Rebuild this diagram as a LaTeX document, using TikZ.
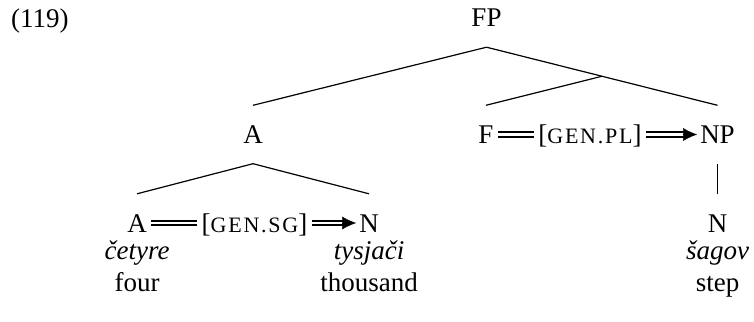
\documentclass[tikz,border=0pt]{standalone}
\usepackage{fontspec}
\setmainfont{Liberation Serif}
\newfontfamily\featfont[LetterSpace=8]{Liberation Serif}
\usetikzlibrary{arrows.meta,calc}
\tikzset{cat/.style={anchor=base,inner xsep=0pt,inner ysep=20pt,text height=18pt,text depth=0pt,font=\fontsize{27}{31}\selectfont},word/.style={anchor=base,inner sep=0pt,font=\fontsize{27}{31}\selectfont},branch/.style={line width=1.2pt},agree/.style={line width=1.9pt,double,double distance=2.8pt,shorten <=4pt,shorten >=4pt},head/.style={line width=.4pt,-{Latex[length=14pt,width=13pt]},shorten >=3pt}}
\newcommand{\feat}[1]{[{\fontsize{22}{24}\featfont #1}]}

\begin{document}
\begin{tikzpicture}[x=1pt,y=-1pt]
\path[use as bounding box] (0,0) rectangle (754,321);
\node[word,anchor=base west] (ex) at (11,28) {(119)};
% tree
\node[cat] (fp) at (486.5,27) {FP};
\node[cat] (a1) at (253,143.5) {A};
\node[cat] (f) at (486,143.5) {F};
\node[cat] (gpl) at (590,143.5) {\feat{GEN.PL}};
\node[cat] (np) at (717.5,143.5) {NP};
\node[cat] (a2) at (137,232) {A};
\node[cat] (gsg) at (254.5,232) {\feat{GEN.SG}};
\node[cat] (n1) at (369,232) {N};
\node[cat] (n2) at (717.5,232) {N};
\coordinate (fbar) at ($(fp.south)!.5!(np.north)$);
\draw[branch] (fp.south) -- (a1.north);
\draw[branch] (fp.south) -- (np.north);
\draw[branch] (fbar) -- (f.north);
\draw[branch] (a1.south) -- (a2.north);
\draw[branch] (a1.south) -- (n1.north);
\draw[branch] (np.south) -- (n2.north);
% agreement
\draw[agree] (a2) -- (gsg);
\draw[agree,shorten >=16pt] (gsg) -- (n1);
\draw[head] ($(n1.west)+(-17pt,0)$) -- (n1.west);
\draw[agree] (f) -- (gpl);
\draw[agree,shorten >=16pt] (gpl) -- (np);
\draw[head] ($(np.west)+(-17pt,0)$) -- (np.west);
% words
\node[word] (cetyre) at (137,259) {\textit{četyre}};
\node[word] (tysjaci) at (369,259) {\textit{tysjači}};
\node[word] (sagov) at (717.5,259) {\textit{šagov}};
\node[word] (four) at (137,291) {four};
\node[word] (thousand) at (369,291) {thousand};
\node[word] (step) at (717.5,291) {step};
\end{tikzpicture}
\end{document}
